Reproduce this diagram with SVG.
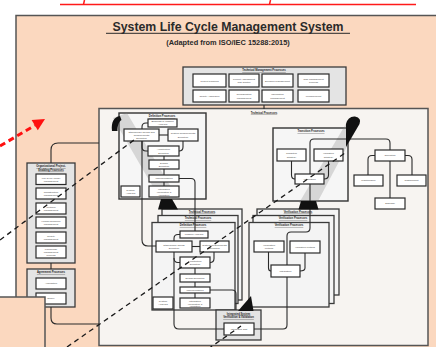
<svg xmlns="http://www.w3.org/2000/svg" width="436" height="347" viewBox="0 0 436 347">
  <defs>
    <style>
      .panel { fill:#fbd8bf; stroke:#555; stroke-width:1.5; }
      .field { fill:#f7f4f1; stroke:#555; stroke-width:1.5; }
      .grp { fill:#e4e4e4; stroke:#3a3a3a; stroke-width:1.3; }
      .sub { fill:#f6f6f6; stroke:#333; stroke-width:1.4; }
      .stk { fill:#f4f4f4; stroke:#3a3a3a; stroke-width:1.3; }
      .box { fill:#fff; stroke:#2a2a2a; stroke-width:1.2; }
      .ln { fill:none; stroke:#2a2a2a; stroke-width:1.1; }
      .dash { fill:none; stroke:#1a1a1a; stroke-width:1.3; stroke-dasharray:5 4; }
      .beam { fill:#8a8a8a; opacity:0.3; }
      .blob { fill:#111; }
      .t { font-family:"Liberation Sans", Arial, sans-serif; font-size:2.5px; fill:#444; text-anchor:middle; }
      .h { font-family:"Liberation Sans", Arial, sans-serif; font-size:2.7px; font-weight:bold; fill:#222; text-anchor:middle; text-decoration:underline; }
      .ttl { font-family:"Liberation Sans", Arial, sans-serif; font-weight:bold; fill:#2a2a2a; text-anchor:middle; }
    </style>
  </defs>

  <rect width="436" height="347" fill="#fff"/>

  <!-- red underline of the heading above -->
  <g id="heading-rule" stroke="#ff1a1a" stroke-width="1.5" fill="none">
    <line x1="60" y1="4.5" x2="416" y2="4.5"/>
    <line x1="84.5" y1="0" x2="83.5" y2="4.5"/>
    <line x1="270.5" y1="0" x2="269.5" y2="4.5"/>
  </g>

  <!-- outer panel -->
  <rect id="system-panel" class="panel" x="16" y="15.5" width="440" height="345"/>
  <g id="title">
    <text class="ttl" x="228" y="31" font-size="12.3">System Life Cycle Management System</text>
    <line x1="106" y1="33.3" x2="350" y2="33.3" stroke="#2a2a2a" stroke-width="1"/>
    <text class="ttl" x="228" y="45" font-size="7.4">(Adapted from ISO/IEC 15288:2015)</text>
  </g>

  <!-- technical processes field -->
  <rect id="technical-field" class="field" x="99" y="108.5" width="329" height="237"/>

  <!-- technical management processes -->
  <g id="tech-mgmt">
    <rect class="grp" x="183" y="67" width="163" height="38"/>
    <text class="h" x="264" y="71">Technical Management Processes</text>
  </g>

  <!-- organizational project-enabling processes -->
  <g id="org-enabling">
    <rect class="grp" x="27" y="163" width="48" height="100"/>
    <text class="h" x="51" y="167">Organizational Project-</text>
    <text class="h" x="51" y="170.5">Enabling Processes</text>
  </g>

  <!-- agreement processes -->
  <g id="agreement">
    <rect class="grp" x="27" y="269" width="48" height="38"/>
    <text class="h" x="51" y="273">Agreement Processes</text>
  </g>

  <!-- left technical sub-panel -->
  <g id="definition-panel">
    <rect class="sub" x="119" y="113" width="87" height="86"/>
    <text class="h" x="162" y="117">Definition Processes</text>
  </g>

  <!-- right technical sub-panel -->
  <g id="utilization-panel">
    <rect class="sub" x="273" y="128" width="75" height="73"/>
    <text class="h" x="311" y="132">Transition Processes</text>
  </g>

  <!-- left stack of detail sheets -->
  <g id="left-stack">
    <rect class="stk" x="162" y="209" width="80" height="91"/>
    <text class="h" x="202" y="212.5">Technical Processes</text>
    <rect class="stk" x="158" y="215.5" width="80" height="88"/>
    <text class="h" x="198" y="219">Technical Processes</text>
    <rect class="stk" x="152" y="222.5" width="83" height="87.5"/>
    <text class="h" x="193" y="226">Definition Processes</text>
  </g>

  <!-- right stack of detail sheets -->
  <g id="right-stack">
    <rect class="stk" x="257" y="209" width="82" height="86"/>
    <text class="h" x="298" y="212.5">Verification Processes</text>
    <rect class="stk" x="253" y="215.5" width="81" height="88"/>
    <text class="h" x="293" y="219">Verification Processes</text>
    <rect class="stk" x="249" y="222.5" width="80" height="84.5"/>
    <text class="h" x="289" y="226">Verification Processes</text>
  </g>

  <!-- integration sheet -->
  <g id="integration">
    <rect class="grp" x="216" y="310" width="45" height="30"/>
    <text class="h" x="238.5" y="314.5">Integrated System</text>
    <text class="h" x="238.5" y="318">Verification &amp; Validation</text>
  </g>

  <!-- projection beams -->
  <g id="beams">
    <polygon class="beam" points="113,118 127,113 178,199 160,199"/>
    <polygon class="beam" points="347,122 359,124 317,203 299,203"/>
  </g>

  <!-- connectors -->
  <g id="connectors" class="ln">
    <line x1="264" y1="105" x2="264" y2="109"/>
    <path d="M51,163 V150 Q51,143 58,143 H99"/>
    <line x1="51" y1="263" x2="51" y2="269"/>
    <path d="M51,307 V318 Q51,324 57,324 H99"/>

    <path d="M148,123 H146 Q142,123 142,127 V129"/>
    <line x1="159" y1="135" x2="168" y2="135"/>
    <path d="M142,141 V147 Q142,151 146,151 H148"/>
    <path d="M183,141 V147 Q183,151 179,151"/>
    <line x1="164" y1="156" x2="164" y2="160"/>
    <line x1="164" y1="169" x2="164" y2="175"/>
    <line x1="164" y1="182" x2="164" y2="186"/>
    <path d="M179,178.5 H191 Q195,178.5 195,182.5 V231"/>
    <path d="M142,141 V240 Q142,246 148,246 H156"/>

    <path d="M180,234.5 H178 Q174,234.5 174,238.5 V241"/>
    <path d="M174,252 V324 Q174,329 179,329 H224"/>
    <line x1="192" y1="246.5" x2="200" y2="246.5"/>
    <path d="M174,258 Q174,262.5 178,262.5 H180"/>
    <path d="M214,252 V258.5 Q214,262.5 210,262.5"/>
    <line x1="195" y1="268" x2="195" y2="274"/>
    <line x1="195" y1="282" x2="195" y2="287"/>
    <line x1="195" y1="293" x2="195" y2="298"/>
    <path d="M210,290 H232 Q236,290 236,294 V310"/>

    <path d="M291.5,161 V175 Q291.5,179 295,179"/>
    <path d="M328.5,161 V175 Q328.5,179 324,179"/>
    <path d="M390,150 V143 Q390,139 386,139 H314 Q310,139 310,143 V228 Q310,232 306,232 H291 Q287,232 287,236 V325 Q287,329 283,329 H254"/>
    <path d="M375,155.5 H372 Q368,155.5 368,159.5 V175"/>
    <path d="M405,155.5 H408 Q412,155.5 412,159.5 V175"/>
    <line x1="390" y1="161" x2="390" y2="198"/>

    <path d="M268.5,252 V268 Q268.5,271 271,271"/>
    <path d="M305,253 V268 Q305,271 300,271"/>
  </g>

  <!-- technical management boxes -->
  <g id="tm-boxes">
    <g id="project-planning"><rect class="box" x="193" y="74" width="33" height="13"/><text class="t" x="209.5" y="81.5">Project Planning</text></g>
    <g id="assessment-control"><rect class="box" x="229" y="74" width="30" height="13"/><text class="t" x="244" y="79.8">Project Assessment</text><text class="t" x="244" y="83.3">and Control</text></g>
    <g id="decision-mgmt"><rect class="box" x="262" y="74" width="31" height="13"/><text class="t" x="277.5" y="81.5">Decision Management</text></g>
    <g id="risk-mgmt"><rect class="box" x="298" y="74" width="31" height="13"/><text class="t" x="313.5" y="79.8">Risk Management</text><text class="t" x="313.5" y="83.3">Process</text></g>
    <g id="quality-assurance"><rect class="box" x="193" y="90" width="33" height="12"/><text class="t" x="209.5" y="97">Quality Assurance</text></g>
    <g id="config-mgmt"><rect class="box" x="229" y="90" width="30" height="12"/><text class="t" x="244" y="95.3">Configuration</text><text class="t" x="244" y="98.8">Management</text></g>
    <g id="info-mgmt"><rect class="box" x="262" y="90" width="31" height="12"/><text class="t" x="277.5" y="95.3">Information</text><text class="t" x="277.5" y="98.8">Management</text></g>
    <g id="measurement"><rect class="box" x="298" y="90" width="31" height="12"/><text class="t" x="313.5" y="97">Measurement</text></g>
  </g>
  <g id="tech-label">
    <text class="h" x="264" y="113.6">Technical Processes</text>
  </g>

  <!-- organizational boxes -->
  <g id="org-boxes">
    <g id="lcm-mgmt"><rect class="box" x="36" y="174" width="30" height="10.5"/><text class="t" x="51" y="178.5">Life Cycle Model</text><text class="t" x="51" y="182">Management</text></g>
    <g id="infra-mgmt"><rect class="box" x="36" y="188" width="30" height="11"/><text class="t" x="51" y="192.7">Infrastructure</text><text class="t" x="51" y="196.2">Management</text></g>
    <g id="portfolio-mgmt"><rect class="box" x="36" y="203" width="30" height="11"/><text class="t" x="51" y="207.7">Portfolio</text><text class="t" x="51" y="211.2">Management</text></g>
    <g id="hr-mgmt"><rect class="box" x="36" y="217" width="30" height="11"/><text class="t" x="51" y="221.7">Human Resource</text><text class="t" x="51" y="225.2">Management</text></g>
    <g id="quality-mgmt"><rect class="box" x="36" y="232" width="30" height="11"/><text class="t" x="51" y="236.7">Quality</text><text class="t" x="51" y="240.2">Management</text></g>
    <g id="knowledge-mgmt"><rect class="box" x="36" y="246" width="30" height="12"/><text class="t" x="51" y="250">Knowledge</text><text class="t" x="51" y="253">Management</text><text class="t" x="51" y="256">Process</text></g>
    <g id="acquisition"><rect class="box" x="36" y="278" width="30" height="11"/><text class="t" x="51" y="284.3">Acquisition</text></g>
    <g id="supply"><rect class="box" x="36" y="293" width="30" height="11"/><text class="t" x="51" y="299.3">Supply</text></g>
  </g>

  <!-- definition boxes -->
  <g id="def-boxes">
    <g id="mission-analysis"><rect class="box" x="148" y="119" width="29" height="8"/><text class="t" x="162.5" y="122.3">Business or Mission</text><text class="t" x="162.5" y="125.4">Analysis</text></g>
    <g id="stakeholder-needs"><rect class="box" x="124" y="129" width="35" height="12"/><text class="t" x="141.5" y="132.8">Stakeholder Needs and</text><text class="t" x="141.5" y="135.8">Requirements</text><text class="t" x="141.5" y="138.8">Definition</text></g>
    <g id="system-requirements"><rect class="box" x="168" y="129" width="30" height="12"/><text class="t" x="183" y="134.3">System Requirements</text><text class="t" x="183" y="137.6">Definition</text></g>
    <g id="architecture"><rect class="box" x="148" y="146" width="31" height="10"/><text class="t" x="163.5" y="150.3">Architecture</text><text class="t" x="163.5" y="153.6">Definition</text></g>
    <g id="design"><rect class="box" x="149" y="160" width="30" height="9"/><text class="t" x="164" y="163.8">Design</text><text class="t" x="164" y="166.9">Definition</text></g>
    <g id="implementation"><rect class="box" x="149" y="175" width="30" height="7"/><text class="t" x="164" y="179.4">Implementation</text></g>
    <g id="integration-box"><rect class="box" x="149" y="186" width="30" height="11"/><text class="t" x="164" y="189.8">Integration</text><text class="t" x="164" y="192.8">Verification &amp;</text><text class="t" x="164" y="195.8">Validation</text></g>
    <g id="system-analysis"><rect class="box" x="121" y="186" width="19" height="11"/><text class="t" x="130.5" y="190.8">System</text><text class="t" x="130.5" y="193.8">Analysis</text></g>
  </g>

  <!-- transition / utilization boxes -->
  <g id="util-boxes">
    <g id="transition"><rect class="box" x="277" y="149" width="29" height="12"/><text class="t" x="291.5" y="154.3">Transition</text><text class="t" x="291.5" y="157.6">Strategy</text></g>
    <g id="validation"><rect class="box" x="314" y="149" width="29" height="12"/><text class="t" x="328.5" y="154.3">Validation</text><text class="t" x="328.5" y="157.6">Strategy</text></g>
    <g id="verification"><rect class="box" x="295" y="174" width="29" height="10"/><text class="t" x="309.5" y="179.8">Verification</text></g>
    <g id="operation"><rect class="box" x="375" y="150" width="30" height="11"/><text class="t" x="390" y="156.3">Operation</text></g>
    <g id="maintenance"><rect class="box" x="354" y="175" width="29" height="11"/><text class="t" x="368.5" y="181.3">Maintenance</text></g>
    <g id="sustainment"><rect class="box" x="397" y="175" width="29" height="11"/><text class="t" x="411.5" y="181.3">Sustainment</text></g>
    <g id="disposal"><rect class="box" x="375" y="198" width="30" height="11"/><text class="t" x="390" y="204.3">Disposal</text></g>
  </g>

  <!-- left stack boxes -->
  <g id="stack-left-boxes">
    <g id="sl-analysis"><rect class="box" x="180" y="231" width="28" height="7"/><text class="t" x="194" y="235.4">Mission Analysis</text></g>
    <g id="sl-needs"><rect class="box" x="156" y="241" width="36" height="11"/><text class="t" x="174" y="245.7">Stakeholder Needs</text><text class="t" x="174" y="249">Definition</text></g>
    <g id="sl-requirements"><rect class="box" x="200" y="241" width="29" height="11"/><text class="t" x="214.5" y="245.7">System Requirements</text><text class="t" x="214.5" y="249">Definition</text></g>
    <g id="sl-architecture"><rect class="box" x="180" y="257" width="30" height="11"/><text class="t" x="195" y="261.7">Architecture</text><text class="t" x="195" y="265">Definition</text></g>
    <g id="sl-design"><rect class="box" x="180" y="274" width="30" height="8"/><text class="t" x="195" y="278.9">Design Definition</text></g>
    <g id="sl-implementation"><rect class="box" x="180" y="287" width="30" height="6"/><text class="t" x="195" y="290.9">Implementation</text></g>
    <g id="sl-integration"><rect class="box" x="180" y="298" width="30" height="10"/><text class="t" x="195" y="301.8">Integration</text><text class="t" x="195" y="304.8">Verification &amp;</text><text class="t" x="195" y="307.4">Validation</text></g>
    <g id="sl-system-analysis"><rect class="box" x="153" y="297" width="20" height="12"/><text class="t" x="163" y="302.3">System</text><text class="t" x="163" y="305.3">Analysis</text></g>
  </g>

  <!-- right stack boxes -->
  <g id="stack-right-boxes">
    <g id="sr-method"><rect class="box" x="254" y="241" width="30" height="11"/><text class="t" x="269" y="245.7">Verification</text><text class="t" x="269" y="249">Method</text></g>
    <g id="sr-validation"><rect class="box" x="290" y="241" width="30" height="12"/><text class="t" x="305" y="247.8">Validation Method</text></g>
    <g id="sr-integration"><rect class="box" x="271" y="265" width="29" height="12"/><text class="t" x="285.5" y="271.8">Integration</text></g>
    <g id="integrated-test"><rect class="box" x="224" y="323" width="30" height="12"/><text class="t" x="239" y="329.8">Integrated Test</text></g>
  </g>

  <!-- beam end caps -->
  <g id="caps" class="blob">
    <path d="M112,131 C111,122 114,117 120,116 L121.5,120 C118.5,122 117.5,126 117.5,131 Z"/>
    <polygon points="161,199 172,199 178,209.5 158,209.5"/>
    <path d="M346,124 Q348,116 355,116.5 Q362,118 359.5,124 L346,147 Z"/>
    <polygon points="301,201 316,201 318.5,209.5 298.5,209.5"/>
    <polygon points="251,296 253.5,311 238,311"/>
  </g>

  <!-- callout guides -->
  <g id="guides" class="dash">
    <line x1="0" y1="240" x2="134" y2="140"/>
    <line x1="67" y1="347" x2="345" y2="153"/>
    <line x1="208" y1="349" x2="241" y2="326"/>
  </g>

  <!-- foreground sheet corner -->
  <rect id="front-sheet" class="panel" x="-2" y="297" width="47" height="52"/>

  <!-- red pointer -->
  <g id="pointer">
    <line x1="0" y1="146" x2="35" y2="125.3" stroke="#ff1010" stroke-width="3" stroke-dasharray="6 4"/>
    <polygon points="45,119 37.8,130.3 31.6,120.1" fill="#ff1010"/>
  </g>
</svg>
